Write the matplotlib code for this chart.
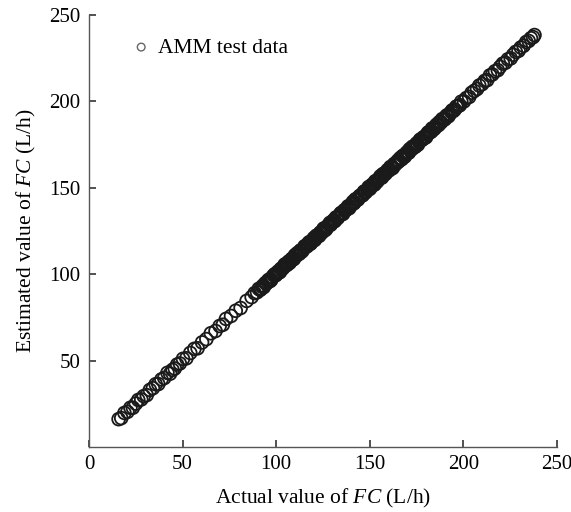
import matplotlib
matplotlib.use("Agg")
import matplotlib.pyplot as plt

# Actual vs estimated fuel consumption FC (L/h), AMM test data
actual_fc = [
    15.8, 17.2, 18.9, 20.5, 22.1, 23.4, 25.0, 26.3, 27.9, 29.2,
    30.8, 32.5, 34.1, 35.6, 37.0, 38.7, 40.2, 41.9, 43.3, 44.6,
    45.8, 47.1, 48.5, 50.2, 52.0, 54.1, 56.3, 58.0, 60.4, 62.7,
    65.1, 67.6, 69.8, 71.5, 73.2, 75.9, 78.4, 81.0, 84.2, 86.9,
    88.5, 89.8, 90.7, 91.5, 92.6, 93.4, 94.3, 95.5, 96.2, 97.4,
    98.1, 99.3, 100.2, 101.0, 102.1, 102.9, 104.0, 104.8, 105.9, 106.7,
    107.8, 108.6, 109.5, 110.7, 111.4, 112.6, 113.3, 114.5, 115.2, 116.4,
    117.1, 118.3, 119.0, 120.2, 121.1, 121.9, 123.0, 123.8, 125.0, 125.7,
    126.9, 127.6, 128.8, 129.5, 130.7, 131.4, 132.6, 133.3, 134.5, 135.2,
    136.4, 137.1, 138.3, 139.0, 140.2, 141.1, 141.9, 143.0, 143.8, 145.0,
    145.7, 146.9, 147.6, 148.8, 149.5, 150.7, 151.4, 152.6, 153.3, 154.5,
    155.2, 156.4, 157.1, 158.3, 159.0, 160.2, 161.1, 161.9, 163.0, 163.8,
    165.0, 165.7, 166.9, 167.6, 168.8, 169.5, 170.7, 171.4, 172.6, 173.3,
    174.5, 175.2, 176.4, 177.1, 178.3, 179.0, 180.2, 181.1, 181.9, 183.0,
    183.8, 185.0, 185.7, 186.9, 187.6, 188.8, 189.5, 190.9, 192.1, 193.6,
    194.8, 196.3, 197.5, 199.0, 200.4, 201.7, 203.2, 204.5, 205.9, 207.4,
    208.6, 210.1, 211.5, 212.8, 214.3, 215.6, 217.0, 218.5, 219.7, 221.2,
    222.6, 223.9, 225.4, 226.7, 228.1, 229.6, 230.8, 232.3, 233.7, 235.0,
    236.2, 237.4, 238.1,
    92.1, 93.0, 94.8, 95.9, 96.8, 97.8, 98.7, 99.7, 100.6, 101.6,
    102.5, 103.5, 104.4, 105.3, 106.3, 107.2, 108.2, 109.1, 110.1, 111.0,
    112.0, 112.9, 113.9, 114.8, 115.8, 116.7, 117.7, 118.6, 119.6, 120.6,
    121.5, 122.4, 123.4, 124.4, 125.3, 126.3, 127.2, 128.2, 129.1, 130.1,
    131.0, 132.0, 132.9, 133.9, 134.8, 135.8, 136.7, 137.7, 138.6, 139.6,
    140.6, 141.5, 142.4, 143.4, 144.4, 145.3, 146.3, 147.2, 148.2, 149.1,
    150.1, 151.0, 152.0, 152.9, 153.9, 154.8, 155.8, 156.7, 157.7, 158.6,
    159.6, 160.6, 161.5, 162.4, 163.4, 164.4, 165.3, 166.3, 167.2, 168.2,
    169.1, 170.1, 171.0, 172.0, 172.9, 173.9, 174.8, 175.8, 176.7, 177.7,
    178.6, 179.6, 180.6, 181.5, 182.4, 183.4, 184.4, 185.3, 186.3, 187.2,
    188.2, 189.1, 190.2, 191.5, 192.8, 194.2, 195.5, 196.9, 198.2,
]
estimated_fc = [
    16.1, 16.7, 19.7, 20.3, 22.7, 22.7, 25.1, 27.2, 27.5, 29.4,
    30.0, 33.0, 34.0, 36.3, 36.4, 39.1, 39.9, 42.9, 42.4, 44.6,
    45.4, 47.7, 48.3, 51.0, 51.3, 54.4, 56.8, 57.1, 60.5, 62.4,
    65.8, 67.1, 70.0, 70.7, 74.1, 75.8, 78.8, 80.4, 84.5, 86.7,
    89.0, 89.5, 91.5, 90.9, 92.7, 92.5, 94.9, 95.3, 96.6, 96.7,
    98.3, 100.0, 99.8, 101.5, 101.3, 103.2, 103.9, 105.7, 105.4, 107.3,
    107.5, 109.0, 108.8, 110.9, 112.2, 112.0, 113.8, 114.3, 116.1, 116.0,
    117.7, 117.5, 119.1, 120.9, 120.6, 122.2, 122.1, 124.2, 124.8, 126.5,
    126.3, 127.8, 129.7, 129.2, 131.2, 130.7, 132.9, 133.2, 135.2, 134.7,
    136.8, 136.9, 138.9, 138.1, 140.3, 141.9, 141.5, 143.3, 143.2, 145.5,
    145.6, 147.6, 147.1, 149.0, 150.4, 150.4, 151.8, 151.8, 153.9, 154.3,
    155.5, 155.8, 157.9, 157.9, 159.2, 160.1, 162.0, 161.2, 163.5, 163.5,
    165.6, 165.5, 167.0, 168.3, 168.0, 169.9, 170.2, 172.3, 172.3, 173.5,
    173.8, 175.7, 176.3, 177.9, 177.9, 179.3, 179.3, 181.7, 182.1, 182.5,
    184.2, 184.7, 186.4, 186.3, 187.7, 189.7, 189.3, 191.4, 191.3, 193.9,
    194.4, 196.9, 197.4, 199.8, 199.9, 201.9, 202.5, 204.9, 206.0, 207.1,
    209.1, 209.9, 211.8, 212.2, 215.0, 215.5, 217.4, 218.0, 219.9, 221.8,
    222.3, 224.3, 224.8, 226.9, 228.6, 229.2, 231.1, 232.1, 234.3, 234.9,
    236.5, 237.1, 238.3,
    91.6, 93.4, 94.6, 96.6, 96.0, 98.1, 99.3, 99.3, 100.7, 101.0,
    103.0, 103.2, 105.2, 105.2, 106.5, 106.5, 108.6, 108.6, 111.0, 110.8,
    111.6, 113.5, 113.2, 115.0, 116.3, 116.4, 118.5, 118.0, 119.7, 119.7,
    122.2, 122.2, 123.7, 123.9, 126.2, 125.5, 127.3, 128.6, 128.5, 130.3,
    130.7, 132.8, 132.4, 134.0, 135.4, 134.9, 137.1, 137.5, 139.3, 139.2,
    140.8, 140.9, 143.3, 143.1, 144.9, 145.2, 145.6, 147.8, 147.8, 149.4,
    149.3, 151.4, 151.9, 153.6, 153.4, 155.0, 156.7, 156.1, 158.0, 158.4,
    160.2, 160.2, 161.7, 161.5, 163.9, 164.5, 165.0, 167.1, 166.5, 168.6,
    168.9, 170.6, 170.4, 172.3, 173.7, 173.5, 174.9, 174.9, 177.3, 177.6,
    179.0, 178.9, 180.8, 182.1, 182.1, 184.3, 183.9, 185.4, 186.1, 187.9,
    187.8, 189.4, 189.6, 192.0, 192.6, 194.8, 195.2, 197.1, 197.7,
]
x_ticks = [0, 50, 100, 150, 200, 250]
y_ticks = [50, 100, 150, 200, 250]

plt.rcParams["font.family"] = ["Liberation Serif", "DejaVu Serif"]
plt.rcParams["mathtext.fontset"] = "custom"
plt.rcParams["mathtext.it"] = "Liberation Serif:italic"
plt.rcParams["mathtext.rm"] = "Liberation Serif"

fig = plt.figure(figsize=(5.71, 5.12), dpi=100)
ax = fig.add_axes([0.156, 0.127, 0.819, 0.844])

ax.scatter(actual_fc, estimated_fc, s=85, facecolors="none",
           edgecolors="#1a1a1a", linewidths=1.3, label="AMM test data")

ax.set_xlim(0, 250)
ax.set_ylim(0, 250)
ax.set_xticks(x_ticks)
ax.set_yticks(y_ticks)
ax.tick_params(direction="in", length=5, width=1.2, color="#333333",
               labelsize=15, pad=6)
for side in ["top", "right"]:
    ax.spines[side].set_visible(False)
for side in ["left", "bottom"]:
    ax.spines[side].set_color("#555555")
    ax.spines[side].set_linewidth(1.0)

ax.set_xlabel(r"Actual value of $\it{FC}$ (L/h)", fontsize=15.5, labelpad=9)
ax.set_ylabel(r"Estimated value of $\it{FC}$ (L/h)", fontsize=15.5, labelpad=8)

leg = ax.legend(loc="center left", bbox_to_anchor=(0.07, 0.924),
                frameon=False, fontsize=15.5, markerscale=0.6,
                handlelength=1.0, handletextpad=0.3, borderaxespad=0)
for h in leg.legend_handles:
    h.set_edgecolor("#666666")
    h.set_linewidth(1.0)

fig.savefig("out.png", dpi=100)
